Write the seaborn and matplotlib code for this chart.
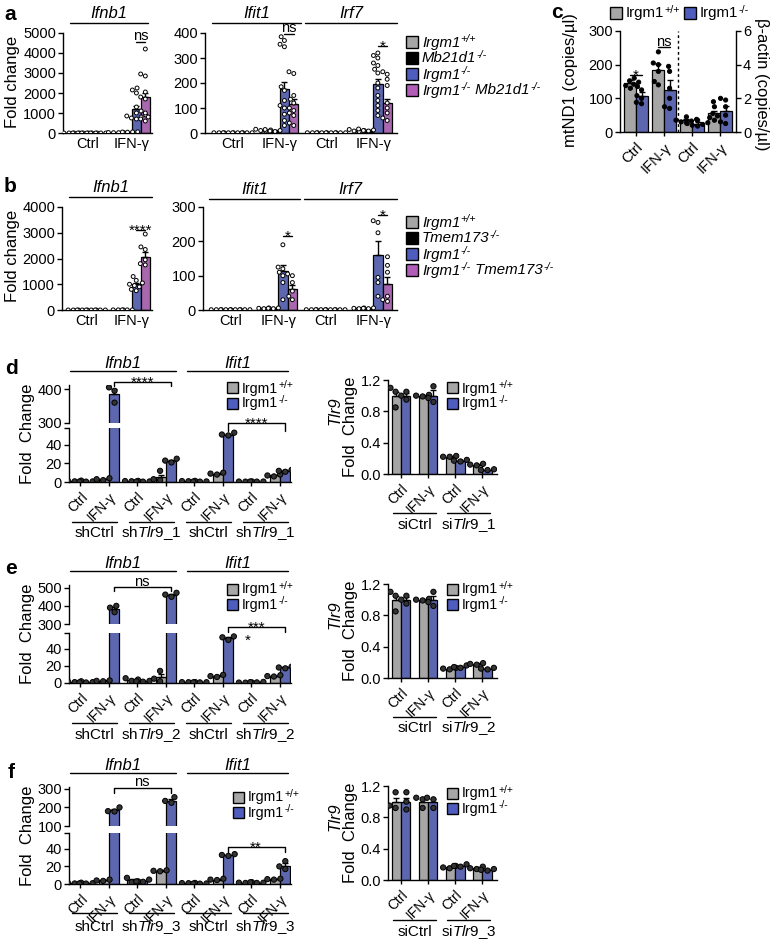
import numpy as np
import pandas as pd
import matplotlib
matplotlib.use("Agg")
import matplotlib.pyplot as plt
from matplotlib.patches import Rectangle
from matplotlib.text import Annotation
from matplotlib.transforms import blended_transform_factory
import seaborn as sns
import warnings
warnings.filterwarnings("ignore")

# ---------------- data ----------------
cond2 = ["Ctrl", "IFN-γ"]
cond4 = ["Ctrl", "IFN-γ", "Ctrl", "IFN-γ"]
cond8 = cond4 * 2

genos_a = ["Irgm1+/+", "Mb21d1-/-", "Irgm1-/-", "Irgm1-/- Mb21d1-/-"]
genos_b = ["Irgm1+/+", "Tmem173-/-", "Irgm1-/-", "Irgm1-/- Tmem173-/-"]
genos2 = ["Irgm1+/+", "Irgm1-/-"]
colors4 = ["#A6A6A6", "#000000", "#4F5DBE", "#B25DB8"]
colors2 = ["#A6A6A6", "#4F5DBE"]

# legend labels as (name, superscript) pieces
parts_a = [[("Irgm1", "+/+")], [("Mb21d1", "-/-")], [("Irgm1", "-/-")], [("Irgm1", "-/-"), (" Mb21d1", "-/-")]]
parts_b = [[("Irgm1", "+/+")], [("Tmem173", "-/-")], [("Irgm1", "-/-")], [("Irgm1", "-/-"), (" Tmem173", "-/-")]]
parts_2 = [[("Irgm1", "+/+")], [("Irgm1", "-/-")]]

# panel a  (rows = Ctrl, IFN-γ ; columns = genotypes)
a_ifnb1_mean = [[1, 1, 1, 1], [20, 50, 1200, 1800]]
a_ifnb1_sem = [[0, 0, 0, 0], [5, 10, 170, 220]]
a_ifnb1_pts = [[[1, 1, 1, 1], [1, 1, 1, 1], [1, 1, 1, 1], [1, 1, 1, 1]],
               [[20, 25, 15, 18], [60, 40, 55, 50],
                [2250, 2150, 2000, 1300, 1100, 1000, 900, 850, 800, 750, 700],
                [4200, 2950, 2850, 2050, 1800, 1700, 1000, 800, 700, 600]]]
a_ifit1_mean = [[1, 1, 1, 1], [12, 10, 178, 115]]
a_ifit1_sem = [[0, 0, 0, 0], [2, 2, 25, 20]]
a_ifit1_pts = [[[1, 1, 1], [1, 1, 1], [1, 1, 1], [1, 1, 1]],
               [[15, 12, 10, 8], [14, 10, 8, 6],
                [385, 370, 355, 345, 185, 170, 130, 110, 100, 75, 50, 30],
                [245, 238, 150, 135, 120, 100, 90, 80, 70, 40, 30]]]
a_irf7_mean = [[1, 1, 1, 1], [10, 12, 195, 120]]
a_irf7_sem = [[0, 0, 0, 0], [2, 2, 20, 18]]
a_irf7_pts = [[[1, 1, 1], [1, 1, 1], [1, 1, 1], [1, 1, 1]],
              [[14, 10, 8, 6], [16, 12, 10, 8],
               [320, 310, 300, 280, 270, 255, 240, 200, 180, 150, 130, 110, 90, 70],
               [245, 235, 215, 190, 120, 100, 80, 60, 50]]]

# panel b
b_ifnb1_mean = [[1, 1, 1, 1], [5, 5, 1000, 2050]]
b_ifnb1_sem = [[0, 0, 0, 0], [1, 1, 60, 200]]
b_ifnb1_pts = [[[1, 1, 1], [1, 1, 1], [1, 1, 1], [1, 1, 1]],
               [[5, 5, 5], [5, 5, 5],
                [1300, 1150, 1050, 1000, 950, 900, 800, 750],
                [2950, 2450, 2350, 1950, 1800, 1750]]]
b_ifit1_mean = [[1, 1, 1, 1], [5, 5, 115, 62]]
b_ifit1_sem = [[0, 0, 0, 0], [1, 1, 15, 12]]
b_ifit1_pts = [[[1, 1, 1], [1, 1, 1], [1, 1, 1], [1, 1, 1]],
               [[6, 5, 4], [6, 5, 4],
                [190, 125, 120, 110, 100, 80, 30],
                [105, 100, 80, 55, 40, 30]]]
b_irf7_mean = [[1, 1, 1, 1], [5, 5, 160, 75]]
b_irf7_sem = [[0, 0, 0, 0], [1, 1, 40, 22]]
b_irf7_pts = [[[1, 1, 1], [1, 1, 1], [1, 1, 1], [1, 1, 1]],
              [[6, 5, 4], [6, 5, 4],
               [260, 255, 225, 95, 80, 40],
               [155, 130, 110, 40, 30, 25]]]

# panel c (rows = Ctrl, IFN-γ ; columns = Irgm1+/+, Irgm1-/-)
c_mtnd1_mean = [[145, 107], [185, 125]]
c_mtnd1_sem = [[8, 12], [18, 28]]
c_mtnd1_pts = [[[160, 152, 148, 142, 138, 130], [135, 125, 108, 100, 88, 84]],
               [[238, 205, 200, 180, 150, 140], [195, 180, 130, 100, 75, 70]]]
c_actin_mean = [[0.7, 0.5], [1.1, 1.25]]
c_actin_sem = [[0.1, 0.08], [0.15, 0.28]]
c_actin_pts = [[[0.9, 0.75, 0.7, 0.65, 0.6, 0.55], [0.7, 0.55, 0.5, 0.45, 0.4, 0.35]],
               [[1.8, 1.5, 1.1, 0.95, 0.85, 0.7], [2.0, 1.9, 1.5, 1.0, 0.6, 0.5]]]

# panels d-f, left: 8 groups (Ifnb1 x4, Ifit1 x4), columns = Irgm1+/+, Irgm1-/-
d_mean = [[1, 0.5], [3, 385], [1, 0.5], [5, 23], [1, 0.5], [9, 51], [0.5, 0.5], [7, 12]]
d_sem = [[0.3, 0.1], [0.5, 15], [0.2, 0.1], [3, 1], [0.2, 0.1], [1, 1], [0.1, 0.1], [1, 0.5]]
d_pts = [[[1.5, 1, 0.7], [0.6, 0.5, 0.4]], [[4, 3, 2], [405, 395, 360]],
         [[1.2, 1, 0.8], [0.6, 0.5, 0.4]], [[12, 3, 2], [25, 23, 21]],
         [[1.2, 1, 0.8], [0.6, 0.5, 0.4]], [[10, 9, 8], [53, 51, 50]],
         [[0.6, 0.5, 0.4], [0.6, 0.5, 0.4]], [[8, 7, 6], [13, 12, 11]]]
e_mean = [[1.5, 0.8], [2.5, 385], [4, 2], [7, 460], [1, 0.8], [8, 52], [0.5, 1], [8, 18]]
e_sem = [[0.3, 0.1], [0.5, 10], [1, 0.5], [4, 5], [0.1, 0.1], [1, 1], [0.1, 0.2], [0.5, 1]]
e_pts = [[[2, 1.5, 1], [1, 0.8, 0.6]], [[3, 2.5, 2], [400, 390, 365]],
         [[5.5, 4, 2.5], [2.5, 2, 1.5]], [[14, 5, 2], [472, 462, 450]],
         [[1.1, 1, 0.9], [0.9, 0.8, 0.7]], [[9.5, 8, 7], [54, 53, 50]],
         [[0.6, 0.5, 0.4], [1.3, 1, 0.7]], [[9, 8, 7.5], [19, 18, 17]]]
f_mean = [[1, 0.7], [4, 185], [4, 3], [15, 237], [1, 0.5], [5, 33], [1.5, 1.5], [5.5, 21]]
f_sem = [[0.3, 0.1], [0.5, 8], [1.5, 1], [0.5, 8], [0.1, 0.1], [0.5, 0.5], [0.2, 0.2], [0.5, 3]]
f_pts = [[[1.5, 1, 0.6], [0.9, 0.7, 0.5]], [[5, 4, 3.5], [200, 180, 178]],
         [[7, 3, 2], [5, 3, 2.5]], [[15.5, 15, 14.5], [255, 235, 225]],
         [[1.2, 1, 0.9], [0.6, 0.5, 0.4]], [[6, 5, 4.5], [34, 33, 32]],
         [[2, 1.5, 1.2], [2, 1.5, 1.2]], [[6, 5.5, 5], [26, 20, 17]]]

# panels d-f, right: Tlr9 (siCtrl Ctrl, siCtrl IFN, siTlr9 Ctrl, siTlr9 IFN)
td_mean = [[1.0, 1.0], [1.0, 1.0], [0.22, 0.17], [0.12, 0.05]]
td_sem = [[0.05, 0.03], [0.01, 0.07], [0.01, 0.01], [0.01, 0.005]]
td_pts = [[[1.1, 1.05, 0.85], [1.05, 1.0, 0.95]], [[1.01, 1.0, 0.99], [1.12, 0.97, 0.92]],
          [[0.23, 0.22, 0.22], [0.18, 0.17, 0.16]], [[0.13, 0.12, 0.11], [0.06, 0.05, 0.05]]]
te_mean = [[1.0, 1.0], [1.0, 1.0], [0.12, 0.14], [0.18, 0.12]]
te_sem = [[0.05, 0.03], [0.01, 0.05], [0.01, 0.01], [0.01, 0.01]]
te_pts = [[[1.1, 1.05, 0.85], [1.05, 1.0, 0.95]], [[1.01, 1.0, 0.99], [1.1, 0.97, 0.92]],
          [[0.13, 0.12, 0.11], [0.16, 0.14, 0.13]], [[0.19, 0.18, 0.17], [0.13, 0.12, 0.11]]]
tf_mean = [[1.0, 1.0], [1.0, 1.0], [0.16, 0.18], [0.15, 0.13]]
tf_sem = [[0.05, 0.05], [0.03, 0.04], [0.01, 0.01], [0.01, 0.005]]
tf_pts = [[[1.12, 0.95, 0.92], [1.12, 1.0, 0.9]], [[1.05, 1.03, 0.92], [1.05, 1.03, 0.92]],
          [[0.18, 0.16, 0.15], [0.2, 0.18, 0.17]], [[0.17, 0.15, 0.14], [0.14, 0.13, 0.12]]]

# ---------------- style ----------------
sns.set_theme(style="ticks")
plt.rcParams['font.family'] = ['Liberation Sans', 'DejaVu Sans']
plt.rcParams.update({
    'mathtext.fontset': 'custom',
    'mathtext.rm': 'Liberation Sans',
    'mathtext.it': 'Liberation Sans:italic',
    'mathtext.bf': 'Liberation Sans:bold',
    'axes.linewidth': 1.0, 'axes.edgecolor': 'black',
    'xtick.major.width': 1.0, 'ytick.major.width': 1.0,
    'xtick.major.size': 3.5, 'ytick.major.size': 3.5,
    'xtick.color': 'black', 'ytick.color': 'black',
    'text.color': 'black', 'axes.labelcolor': 'black',
    'xtick.labelsize': 10.5, 'ytick.labelsize': 10.5,
})

W, H = 772, 949
fig = plt.figure(figsize=(W / 100, H / 100), dpi=100)


def add_ax(x0, y0, x1, y1):
    return fig.add_axes([x0 / W, 1 - y1 / H, (x1 - x0) / W, (y1 - y0) / H])


def fy(yp):
    return 1 - yp / H


def bars(ax, means, sems, pts, genos, colors, width, face, edge, size, ncat=None, start=0):
    ncat = len(means) if ncat is None else ncat
    cats = [f"g{k}" for k in range(ncat)]
    rows, prow = [], []
    for i in range(len(means)):
        for j, g in enumerate(genos):
            rows.append((cats[start + i], g, means[i][j]))
            for v in pts[i][j]:
                prow.append((cats[start + i], g, v))
    df = pd.DataFrame(rows, columns=["cat", "geno", "val"])
    dp = pd.DataFrame(prow, columns=["cat", "geno", "val"])
    sns.barplot(data=df, x="cat", y="val", hue="geno", order=cats, hue_order=genos,
                palette=dict(zip(genos, colors)), width=width, edgecolor="black",
                linewidth=0.9, errorbar=None, legend=False, ax=ax, zorder=1)
    n = len(genos)
    for i in range(len(means)):
        for j in range(n):
            if sems[i][j] > 0:
                x = start + i + (j - (n - 1) / 2) * width / n
                ax.errorbar(x, means[i][j], yerr=[[0], [sems[i][j]]], fmt="none",
                            ecolor="black", elinewidth=1, capsize=2.5, capthick=1, zorder=2)
    sns.swarmplot(data=dp, x="cat", y="val", hue="geno", order=cats, hue_order=genos,
                  dodge=True, palette={g: face for g in genos}, size=size,
                  edgecolor=edge, linewidth=0.7, legend=False, ax=ax, zorder=3)
    ax.set(xlabel="", ylabel="")


def style(ax, xlim, ylim, yticks, xlabels, rot=0, xtick_len=0, ylabels=None):
    ax.set_xlim(*xlim)
    ax.set_ylim(*ylim)
    ax.set_yticks(yticks)
    if ylabels is not None:
        ax.set_yticklabels(ylabels)
    ax.set_xticks(range(len(xlabels)))
    if rot:
        ax.set_xticklabels(xlabels, rotation=rot, ha="right", rotation_mode="anchor", fontsize=10)
    else:
        ax.set_xticklabels(xlabels)
    ax.tick_params(axis="x", length=xtick_len, pad=3)
    ax.tick_params(axis="y", pad=1.5)
    sns.despine(ax=ax)


def sig(ax, x1, x2, yl, s, drop=0, size=11):
    tr = blended_transform_factory(ax.transData, fig.transFigure)
    ax.plot([x1, x1, x2, x2], [fy(yl + drop), fy(yl), fy(yl), fy(yl + drop)],
            transform=tr, color="black", lw=1, clip_on=False)
    base = yl + 4.5 if "*" in s else yl - 1.5
    ax.text((x1 + x2) / 2, fy(base), s, transform=tr, ha="center", va="baseline",
            fontsize=size if "*" in s else size - 0.5, clip_on=False)


def header(ax, x1, x2, yl, yt, s, italic=True, size=12):
    tr = blended_transform_factory(ax.transData, fig.transFigure)
    ax.plot([x1, x2], [fy(yl), fy(yl)], transform=tr, color="black", lw=1, clip_on=False)
    ax.text((x1 + x2) / 2, fy(yt), s, transform=tr, ha="center", va="center",
            fontsize=size, style="italic" if italic else "normal", clip_on=False)


def legend(x, y, colors, parts_list, size, italic, step=16, sq=12, xoffs=None):
    st = "italic" if italic else "normal"
    for k, (c, parts) in enumerate(zip(colors, parts_list)):
        x0, yc = (x + xoffs[k], y) if xoffs else (x, y + k * step)
        fig.add_artist(Rectangle((x0 / W, fy(yc + sq / 2)), sq / W, sq / H,
                                 transform=fig.transFigure, facecolor=c,
                                 edgecolor="black", linewidth=1))
        main = fig.text((x0 + sq + 4) / W, fy(yc + 0.5), parts[0][0], ha="left", va="center",
                        fontsize=size, style=st)
        sup = None
        for i, (txt, s) in enumerate(parts):
            if i > 0:
                nxt = Annotation(txt, xy=(1, 0), xycoords=(sup, main), xytext=(0.3, 0),
                                 textcoords="offset points", ha="left", va="bottom",
                                 fontsize=size, style=st)
                fig.add_artist(nxt)
                main = nxt
            sup = Annotation(s, xy=(1, 1), xycoords=main, xytext=(0.2, 0.8),
                             textcoords="offset points", ha="left", va="top",
                             fontsize=size * 0.72, style=st)
            fig.add_artist(sup)


# ---------------- panel a ----------------
ax = add_ax(63, 33, 152, 133)
bars(ax, a_ifnb1_mean, a_ifnb1_sem, a_ifnb1_pts, genos_a, colors4, 0.8, "white", "black", 2.8)
style(ax, (-0.55, 1.45), (0, 5000), range(0, 5001, 1000), cond2)
header(ax, -0.4, 1.35, 23, 14, "Ifnb1")
sig(ax, 1.1, 1.3, 42, "ns")

ax = add_ax(205, 33, 397, 133)
bars(ax, a_ifit1_mean + a_irf7_mean, a_ifit1_sem + a_irf7_sem, a_ifit1_pts + a_irf7_pts,
     genos_a, colors4, 0.8, "white", "black", 2.8)
style(ax, (-0.6, 3.51), (0, 400), range(0, 401, 100), cond4)
header(ax, -0.45, 1.45, 23, 14, "Ifit1")
header(ax, 1.55, 3.5, 23, 14, "Irf7")
sig(ax, 1.1, 1.3, 34, "ns")
sig(ax, 3.1, 3.3, 46, "*")
legend(406, 42, colors4, parts_a, 10.8, True, step=16)
fig.text(13 / W, fy(82), "Fold change", rotation=90, ha="center", va="center", fontsize=12)
fig.text(10 / W, fy(14), "a", fontsize=15, fontweight="bold", ha="center", va="center")

# ---------------- panel b ----------------
ax = add_ax(62, 207, 152, 310)
bars(ax, b_ifnb1_mean, b_ifnb1_sem, b_ifnb1_pts, genos_b, colors4, 0.8, "white", "black", 2.8)
style(ax, (-0.55, 1.45), (0, 4000), range(0, 4001, 1000), cond2)
header(ax, -0.4, 1.45, 197, 188, "Ifnb1")
sig(ax, 1.1, 1.3, 230, "****")

ax = add_ax(203, 207, 397, 310)
bars(ax, b_ifit1_mean + b_irf7_mean, b_ifit1_sem + b_irf7_sem, b_ifit1_pts + b_irf7_pts,
     genos_b, colors4, 0.8, "white", "black", 2.8)
style(ax, (-0.58, 3.5), (0, 300), range(0, 301, 100), cond4)
header(ax, -0.45, 1.45, 199, 189, "Ifit1")
header(ax, 1.55, 3.5, 199, 189, "Irf7")
sig(ax, 1.1, 1.3, 236, "*")
sig(ax, 3.1, 3.3, 215, "*")
legend(406, 222, colors4, parts_b, 10.8, True, step=16)
fig.text(13 / W, fy(256), "Fold change", rotation=90, ha="center", va="center", fontsize=12)
fig.text(10 / W, fy(186), "b", fontsize=15, fontweight="bold", ha="center", va="center")

# ---------------- panel c ----------------
ax = add_ax(620, 31, 736, 132)
bars(ax, c_mtnd1_mean, c_mtnd1_sem, c_mtnd1_pts, genos2, colors2, 0.84, "black", "black", 3.0, ncat=4)
ax2 = ax.twinx()
bars(ax2, c_actin_mean, c_actin_sem, c_actin_pts, genos2, colors2, 0.84, "black", "black", 3.0,
     ncat=4, start=2)
ax2.set_ylim(0, 6)
ax2.set_yticks([0, 2, 4, 6])
ax2.tick_params(axis="y", pad=1.5)
for sp in ["left", "top", "bottom"]:
    ax2.spines[sp].set_visible(False)
style(ax, (-0.57, 3.57), (0, 300), range(0, 301, 100), cond4, rot=45, xtick_len=3)
ax.set_xticklabels(cond4, rotation=45, ha="right", rotation_mode="anchor", fontsize=10.5)
ax.axvline(1.5, color="black", lw=1, ls=(0, (2, 2)))
sig(ax, -0.21, 0.21, 75, "*")
sig(ax, 0.79, 1.21, 47, "ns")
legend(610, 13, colors2, parts_2, 10.8, False, sq=12, xoffs=[0, 74])
fig.text(570 / W, fy(80), "mtND1 (copies/µl)", rotation=90, ha="center", va="center", fontsize=12)
fig.text(761 / W, fy(84), "β-actin (copies/µl)", rotation=270, ha="center", va="center", fontsize=12)
fig.text(557 / W, fy(13), "c", fontsize=15, fontweight="bold", ha="center", va="center")


# ---------------- panels d-f ----------------
def left_panel(up, lo, up_ylim, up_ticks, means, sems, pts):
    axu = add_ax(*up)
    axl = add_ax(*lo)
    for a in (axu, axl):
        bars(a, means, sems, pts, genos2, colors2, 0.7, "#333333", "black", 3.8)
    style(axl, (-0.4, 7.4), (0, 58), [0, 20, 40, 58], cond8, rot=45, xtick_len=3,
          ylabels=["0", "20", "40", ""])
    style(axu, (-0.4, 7.4), up_ylim, up_ticks, cond8)
    axu.spines["bottom"].set_visible(False)
    axu.tick_params(axis="x", bottom=False, labelbottom=False)
    return axu, axl


def right_panel(rect, means, sems, pts):
    ax = add_ax(*rect)
    bars(ax, means, sems, pts, genos2, colors2, 0.7, "#333333", "black", 3.8)
    style(ax, (-0.48, 3.55), (0, 1.2), [0, 0.4, 0.8, 1.2], cond4, rot=45, xtick_len=3,
          ylabels=["0.0", "0.4", "0.8", "1.2"])
    return ax


specs = [
    dict(letter="d", up=(69, 385, 291, 423), lo=(69, 428, 291, 482), uyl=(300, 412),
         ut=[300, 400], m=d_mean, s=d_sem, p=d_pts, tr=(388, 380, 497, 474),
         tm=td_mean, ts=td_sem, tp=td_pts, tag="1"),
    dict(letter="e", up=(69, 585, 291, 624), lo=(69, 633, 291, 683), uyl=(300, 515),
         ut=[300, 400, 500], m=e_mean, s=e_sem, p=e_pts, tr=(388, 584, 497, 678),
         tm=te_mean, ts=te_sem, tp=te_pts, tag="2"),
    dict(letter="f", up=(69, 787, 291, 826), lo=(69, 833, 291, 884), uyl=(100, 310),
         ut=[100, 200, 300], m=f_mean, s=f_sem, p=f_pts, tr=(388, 786, 497, 880),
         tm=tf_mean, ts=tf_sem, tp=tf_pts, tag="3"),
]
hdr = {"d": (371, 363), "e": (571, 563), "f": (773, 766)}
grp = {"d": (522, 533, 513, 525), "e": (723, 735, 717, 728), "f": (913, 927, 920, 932)}
leg = {"d": (227, 388, 447, 388), "e": (227, 589, 447, 589), "f": (233, 797, 447, 793)}

for sp in specs:
    L = sp["letter"]
    axu, axl = left_panel(sp["up"], sp["lo"], sp["uyl"], sp["ut"], sp["m"], sp["s"], sp["p"])
    axt = right_panel(sp["tr"], sp["tm"], sp["ts"], sp["tp"])
    yl, yt = hdr[L]
    header(axl, -0.35, 3.35, yl, yt, "Ifnb1")
    header(axl, 3.75, 7.3, yl, yt, "Ifit1")
    gl, gt, tl, tt = grp[L]
    sh = "sh$\\mathit{Tlr9}$_" + sp["tag"]
    si = "si$\\mathit{Tlr9}$_" + sp["tag"]
    for k, s in enumerate(["shCtrl", sh, "shCtrl", sh]):
        header(axl, 2 * k - 0.3, 2 * k + 1.3, gl, gt, s, italic=False, size=11)
    for k, s in enumerate(["siCtrl", si]):
        header(axt, 2 * k - 0.3, 2 * k + 1.3, tl, tt, s, italic=False, size=11)
    lx, ly, tx, ty = leg[L]
    legend(lx, ly, colors2, parts_2, 10.2, False, step=15, sq=11)
    legend(tx, ty, colors2, parts_2, 10.2, False, step=15, sq=11)
    top, bot = sp["up"][1], sp["lo"][3]
    fig.text(28 / W, fy((top + bot) / 2), "Fold  Change", rotation=90, ha="center", va="center", fontsize=12)
    ty0, ty1 = sp["tr"][1], sp["tr"][3]
    fig.text(335 / W, fy(ty0 + 31), "Tlr9", rotation=90, ha="center", va="center", fontsize=12, style="italic")
    fig.text(351 / W, fy((ty0 + ty1) / 2), "Fold  Change", rotation=90, ha="center", va="center", fontsize=12)
    fig.text(11 / W, fy(yt + 6), L, fontsize=15, fontweight="bold", ha="center", va="center")
    if L == "d":
        sig(axl, 1.175, 3.175, 382, "****", drop=4)
        sig(axl, 5.175, 7.175, 423, "****", drop=8)
    elif L == "e":
        sig(axl, 1.175, 3.175, 587, "ns", drop=4)
        sig(axl, 5.175, 7.175, 627, "***", drop=5)
        tr = blended_transform_factory(axl.transData, fig.transFigure)
        axl.text(5.87, fy(645), "*", transform=tr, ha="center", va="baseline", fontsize=11)
    else:
        sig(axl, 1.175, 3.175, 788, "ns", drop=5)
        sig(axl, 5.175, 7.175, 847, "**", drop=5)
    axl.set_xlim(-0.4, 7.4)
    axu.set_xlim(-0.4, 7.4)
    axl.set_ylim(0, 58)
    axu.set_ylim(*sp["uyl"])
    axt.set_xlim(-0.48, 3.55)
    axt.set_ylim(0, 1.2)

fig.savefig("out.png", dpi=100)
